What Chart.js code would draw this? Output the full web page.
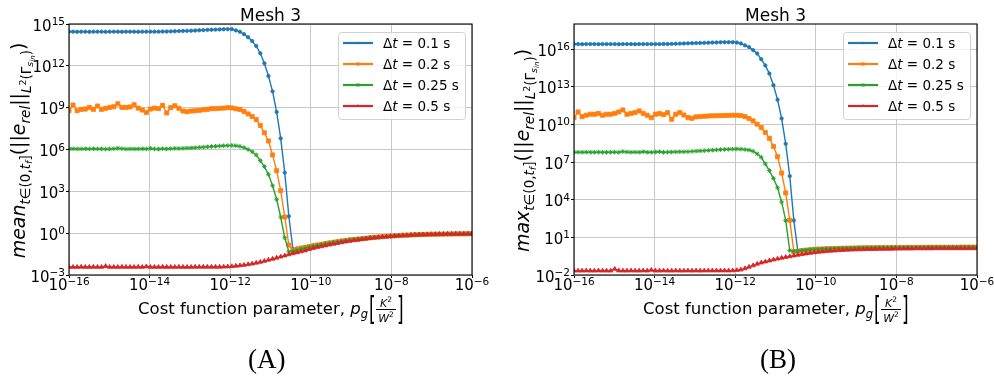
<!DOCTYPE html>
<html><head><meta charset="utf-8">
<script src="https://cdn.jsdelivr.net/npm/chart.js@4.4.1/dist/chart.umd.min.js"></script>
<style>
html,body{margin:0;padding:0;background:#fff;}
body{width:994px;height:378px;overflow:hidden;position:relative;}
.pane{position:absolute;top:0;width:497px;height:378px;}
#pa{left:0}#pb{left:497px}
</style></head><body>
<div class="pane" id="pa"><canvas id="ca" width="497" height="378" style="width:497px;height:378px"></canvas></div>
<div class="pane" id="pb"><canvas id="cb" width="497" height="378" style="width:497px;height:378px"></canvas></div>
<script>
// log10 of cost function parameter p_g (x positions, 100 points)
const xExp = [-16.000,-15.899,-15.798,-15.697,-15.596,-15.495,-15.394,-15.293,-15.192,-15.091,
 -14.990,-14.889,-14.788,-14.687,-14.586,-14.485,-14.384,-14.283,-14.182,-14.081,
 -13.980,-13.879,-13.778,-13.677,-13.576,-13.475,-13.374,-13.273,-13.172,-13.071,
 -12.970,-12.869,-12.768,-12.667,-12.566,-12.465,-12.364,-12.263,-12.162,-12.061,
 -11.960,-11.859,-11.758,-11.657,-11.556,-11.455,-11.354,-11.253,-11.152,-11.051,
 -10.949,-10.848,-10.747,-10.646,-10.545,-10.444,-10.343,-10.242,-10.141,-10.040,
 -9.939,-9.838,-9.737,-9.636,-9.535,-9.434,-9.333,-9.232,-9.131,-9.030,
 -8.929,-8.828,-8.727,-8.626,-8.525,-8.424,-8.323,-8.222,-8.121,-8.020,
 -7.919,-7.818,-7.717,-7.616,-7.515,-7.414,-7.313,-7.212,-7.111,-7.010,
 -6.909,-6.808,-6.707,-6.606,-6.505,-6.404,-6.303,-6.202,-6.101,-6.000];

const seriesLabels = ['0.1','0.2','0.25','0.5'];

// Panel A: log10 of mean error
const meanDt01 = [14.45,14.45,14.44,14.45,14.45,14.44,14.45,14.45,14.45,14.44,
 14.45,14.45,14.45,14.44,14.45,14.45,14.45,14.44,14.45,14.45,
 14.45,14.45,14.45,14.46,14.46,14.47,14.48,14.49,14.50,14.51,
 14.52,14.53,14.55,14.56,14.58,14.59,14.60,14.61,14.62,14.63,
 14.63,14.54,14.44,14.27,14.05,13.78,13.42,12.90,12.18,11.27,
 10.17,8.69,6.80,4.34,1.21,-1.14,-1.09,-1.04,-0.99,-0.94,
 -0.88,-0.83,-0.78,-0.73,-0.68,-0.64,-0.59,-0.55,-0.51,-0.47,
 -0.44,-0.41,-0.38,-0.35,-0.32,-0.29,-0.27,-0.25,-0.23,-0.21,
 -0.19,-0.17,-0.16,-0.14,-0.13,-0.12,-0.11,-0.10,-0.09,-0.08,
 -0.07,-0.07,-0.06,-0.06,-0.05,-0.05,-0.05,-0.04,-0.04,-0.04];
const meanDt02 = [8.78,9.19,8.78,8.88,8.90,9.02,8.88,9.12,8.88,8.95,
 9.02,9.07,9.28,9.02,9.02,9.05,9.21,8.97,8.83,8.66,
 8.90,8.97,8.93,9.17,8.62,9.00,9.14,8.95,8.76,8.71,
 8.76,8.78,8.81,8.85,8.88,8.93,8.93,8.95,8.97,9.00,
 8.98,8.92,8.87,8.72,8.55,8.37,8.15,7.72,7.20,6.61,
 5.61,4.48,3.05,1.16,-0.85,-1.23,-1.15,-1.08,-1.02,-0.96,
 -0.90,-0.85,-0.80,-0.75,-0.70,-0.65,-0.61,-0.56,-0.52,-0.48,
 -0.45,-0.42,-0.39,-0.36,-0.33,-0.30,-0.28,-0.25,-0.23,-0.21,
 -0.19,-0.18,-0.16,-0.15,-0.13,-0.12,-0.11,-0.10,-0.09,-0.08,
 -0.08,-0.07,-0.07,-0.06,-0.06,-0.05,-0.05,-0.05,-0.04,-0.04];
const meanDt025 = [6.04,6.05,6.04,6.04,6.05,6.04,6.05,6.04,6.04,6.03,
 6.04,6.05,6.09,6.06,6.03,6.04,6.04,6.04,6.05,6.04,
 6.08,6.04,6.03,6.05,6.04,6.06,6.08,6.07,6.08,6.10,
 6.11,6.13,6.15,6.17,6.19,6.21,6.23,6.25,6.27,6.28,
 6.29,6.27,6.22,6.14,6.00,5.84,5.61,5.20,4.77,4.22,
 3.40,2.43,1.16,-0.33,-1.33,-1.30,-1.22,-1.14,-1.07,-1.00,
 -0.94,-0.88,-0.83,-0.77,-0.72,-0.67,-0.63,-0.58,-0.54,-0.50,
 -0.46,-0.43,-0.40,-0.37,-0.34,-0.31,-0.28,-0.26,-0.24,-0.22,
 -0.20,-0.18,-0.16,-0.15,-0.14,-0.12,-0.11,-0.10,-0.09,-0.09,
 -0.08,-0.07,-0.07,-0.06,-0.06,-0.05,-0.05,-0.05,-0.04,-0.04];
const meanDt05 = [-2.43,-2.43,-2.43,-2.42,-2.43,-2.43,-2.42,-2.43,-2.43,-2.37,
 -2.43,-2.43,-2.43,-2.42,-2.43,-2.43,-2.43,-2.42,-2.43,-2.39,
 -2.43,-2.43,-2.43,-2.42,-2.43,-2.43,-2.43,-2.42,-2.43,-2.43,
 -2.43,-2.42,-2.42,-2.42,-2.42,-2.42,-2.42,-2.42,-2.41,-2.40,
 -2.38,-2.35,-2.32,-2.28,-2.24,-2.19,-2.13,-2.07,-2.00,-1.92,
 -1.85,-1.77,-1.69,-1.61,-1.53,-1.45,-1.39,-1.32,-1.25,-1.15,
 -1.08,-1.01,-0.95,-0.89,-0.83,-0.77,-0.72,-0.66,-0.61,-0.56,
 -0.52,-0.48,-0.44,-0.40,-0.36,-0.33,-0.30,-0.27,-0.25,-0.22,
 -0.20,-0.18,-0.16,-0.15,-0.13,-0.12,-0.11,-0.10,-0.09,-0.08,
 -0.08,-0.07,-0.07,-0.06,-0.06,-0.06,-0.05,-0.05,-0.05,-0.05];

// Panel B: log10 of max error
const maxDt01 = [16.40,16.40,16.39,16.40,16.40,16.40,16.39,16.40,16.40,16.40,
 16.40,16.39,16.40,16.40,16.40,16.39,16.40,16.40,16.40,16.40,
 16.40,16.40,16.41,16.41,16.42,16.43,16.44,16.45,16.46,16.47,
 16.48,16.49,16.50,16.51,16.52,16.53,16.54,16.55,16.55,16.55,
 16.52,16.45,16.30,16.16,15.92,15.65,15.20,14.70,14.05,13.12,
 11.97,10.47,8.45,5.88,2.35,-0.13,-0.08,-0.04,0.00,0.03,
 0.05,0.07,0.08,0.09,0.10,0.11,0.12,0.13,0.14,0.15,
 0.15,0.16,0.16,0.17,0.17,0.18,0.18,0.18,0.19,0.19,
 0.19,0.20,0.20,0.20,0.20,0.20,0.21,0.21,0.21,0.21,
 0.21,0.21,0.21,0.22,0.22,0.22,0.22,0.22,0.22,0.22];
const maxDt02 = [10.54,10.99,10.62,10.73,10.81,10.81,10.88,10.73,10.81,10.81,
 10.88,10.99,11.15,10.81,10.88,10.94,11.07,10.88,10.73,10.54,
 10.81,10.86,10.78,10.94,10.41,10.81,10.94,10.75,10.54,10.49,
 10.60,10.62,10.65,10.67,10.68,10.69,10.70,10.71,10.72,10.73,
 10.73,10.70,10.62,10.47,10.28,10.02,9.75,9.36,8.89,8.25,
 7.43,6.12,4.54,2.37,-0.13,-0.10,-0.06,-0.02,0.01,0.04,
 0.06,0.07,0.09,0.10,0.11,0.12,0.13,0.14,0.14,0.15,
 0.16,0.16,0.17,0.17,0.17,0.18,0.18,0.18,0.19,0.19,
 0.19,0.19,0.20,0.20,0.20,0.20,0.20,0.21,0.21,0.21,
 0.21,0.21,0.21,0.21,0.21,0.22,0.22,0.22,0.22,0.22];
const maxDt025 = [7.78,7.78,7.78,7.79,7.78,7.78,7.79,7.78,7.78,7.78,
 7.79,7.78,7.84,7.80,7.78,7.79,7.78,7.82,7.78,7.78,
 7.80,7.82,7.78,7.79,7.80,7.81,7.83,7.82,7.83,7.85,
 7.87,7.89,7.91,7.93,7.95,7.97,7.99,8.01,8.02,8.03,
 8.04,8.03,8.00,7.96,7.86,7.65,7.38,6.85,6.32,5.70,
 4.95,3.82,2.35,-0.05,-0.12,-0.08,-0.04,-0.01,0.02,0.04,
 0.06,0.08,0.09,0.10,0.11,0.12,0.13,0.14,0.14,0.15,
 0.16,0.16,0.17,0.17,0.17,0.18,0.18,0.18,0.19,0.19,
 0.19,0.19,0.20,0.20,0.20,0.20,0.20,0.21,0.21,0.21,
 0.21,0.21,0.21,0.21,0.21,0.22,0.22,0.22,0.22,0.22];
const maxDt05 = [-1.66,-1.66,-1.66,-1.65,-1.66,-1.66,-1.65,-1.66,-1.66,-1.66,
 -1.52,-1.65,-1.66,-1.66,-1.65,-1.66,-1.66,-1.65,-1.66,-1.60,
 -1.66,-1.66,-1.65,-1.66,-1.66,-1.65,-1.66,-1.66,-1.65,-1.66,
 -1.65,-1.66,-1.65,-1.65,-1.65,-1.65,-1.65,-1.65,-1.65,-1.64,
 -1.62,-1.58,-1.48,-1.36,-1.24,-1.12,-1.02,-0.94,-0.86,-0.78,
 -0.71,-0.64,-0.58,-0.52,-0.46,-0.40,-0.35,-0.30,-0.25,-0.21,
 -0.17,-0.14,-0.11,-0.08,-0.06,-0.04,-0.02,0.00,0.01,0.02,
 0.03,0.04,0.05,0.05,0.06,0.07,0.07,0.08,0.08,0.09,
 0.09,0.10,0.10,0.10,0.11,0.11,0.11,0.11,0.11,0.12,
 0.12,0.12,0.12,0.12,0.12,0.12,0.12,0.12,0.12,0.12];

// tick exponents
const xTickExp = [-16,-14,-12,-10,-8,-6];
const yTickExpA = [-3,0,3,6,9,12,15];
const yTickExpB = [-2,1,4,7,10,13,16];

const COLORS = ['#1f77b4','#ff7f0e','#2ca02c','#d62728'];
const PSTYLE = ['circle','rect','star','triangle'];
const PRAD = [1.7,2.9,2.3,2.6];
const FONT = '"DejaVu Sans"';

function fontOf(s){ return (s.i?'italic ':'') + s.size + 'px ' + FONT; }
function richWidth(ctx, segs){ let w=0; for(const s of segs){ ctx.font=fontOf(s); w+=ctx.measureText(s.t).width+(s.sp||0);} return w; }
function drawRich(ctx, segs, x, y){ let cx=x; for(const s of segs){ ctx.font=fontOf(s); ctx.fillText(s.t, cx, y+(s.dy||0)); cx+=ctx.measureText(s.t).width+(s.sp||0);} return cx; }

function ylabSegs(word){
  return [
    {t:word, i:1, size:19},
    {t:'t', i:1, size:13.5, dy:4.5},
    {t:'\u2208(0,', size:13.5, dy:4.5},
    {t:'t', i:1, size:13.5, dy:4.5},
    {t:'f', i:1, size:9.5, dy:7},
    {t:']', size:13.5, dy:4.5},
    {t:'(||', size:19},
    {t:'e', i:1, size:19},
    {t:'rel', i:1, size:13.5, dy:4.5},
    {t:'||', size:19},
    {t:'L', i:1, size:13.5, dy:5.5},
    {t:'2', size:9.5, dy:0.5},
    {t:'(\u0393', size:13.5, dy:5.5},
    {t:'s', i:1, size:9.5, dy:8},
    {t:'in', i:1, size:7, dy:10},
    {t:')', size:13.5, dy:5.5},
    {t:')', size:19}
  ];
}

function drawPow(ctx, e, px, py, mode){
  const b='10', s = e<0 ? '\u2212'+(-e) : String(e);
  ctx.font='15px '+FONT; const wb=ctx.measureText(b).width;
  ctx.font='10.5px '+FONT; const ws=ctx.measureText(s).width;
  let x0, yb;
  if(mode==='x'){ x0=px-(wb+ws)/2; yb=290; } else { x0=px-4-wb-ws; yb=py+6.5; }
  ctx.font='15px '+FONT; ctx.fillText(b,x0,yb);
  ctx.font='10.5px '+FONT; ctx.fillText(s,x0+wb,yb-5.5);
}

function drawMarker(ctx, style, x, y, r, col){
  ctx.save(); ctx.fillStyle=col; ctx.strokeStyle=col; ctx.lineWidth=1;
  ctx.beginPath();
  if(style==='circle'){ ctx.arc(x,y,r,0,Math.PI*2); ctx.fill(); }
  else if(style==='rect'){ const s=r*Math.SQRT1_2; ctx.rect(x-s,y-s,2*s,2*s); ctx.fill(); }
  else if(style==='triangle'){ ctx.moveTo(x,y-r); ctx.lineTo(x+r*0.87,y+r*0.5); ctx.lineTo(x-r*0.87,y+r*0.5); ctx.closePath(); ctx.fill(); }
  else { ctx.moveTo(x-r,y); ctx.lineTo(x+r,y); ctx.moveTo(x,y-r); ctx.lineTo(x,y+r);
         const d=r*0.7; ctx.moveTo(x-d,y-d); ctx.lineTo(x+d,y+d); ctx.moveTo(x-d,y+d); ctx.lineTo(x+d,y-d); ctx.stroke(); }
  ctx.restore();
}

function decorPlugin(cfg){
  return {
    id:'decor',
    afterDraw(chart){
      const ctx=chart.ctx, ca=chart.chartArea, xs=chart.scales.x, ys=chart.scales.y;
      ctx.save();
      ctx.fillStyle='#000'; ctx.textAlign='left'; ctx.textBaseline='alphabetic';
      ctx.strokeStyle='#000'; ctx.lineWidth=1.1;
      ctx.strokeRect(ca.left, ca.top, ca.right-ca.left, ca.bottom-ca.top);
      for(const e of xTickExp) drawPow(ctx, e, xs.getPixelForValue(Math.pow(10,e)), 0, 'x');
      for(const e of cfg.yTicks) drawPow(ctx, e, ca.left, ys.getPixelForValue(Math.pow(10,e)), 'y');
      ctx.font='17px '+FONT; ctx.textAlign='center';
      ctx.fillText('Mesh 3', (ca.left+ca.right)/2, 20.5);
      ctx.textAlign='left';
      const seg1=[{t:'Cost function parameter, ', size:16.5},{t:'p', i:1, size:16.5},{t:'g', i:1, size:11.5, dy:3.5}];
      const w1=richWidth(ctx,seg1), fracW=20, total=w1+1+6+fracW+2+6;
      let cx=(ca.left+ca.right)/2-total/2;
      cx=drawRich(ctx,seg1,cx,314);
      cx+=1;
      ctx.save(); ctx.translate(cx,319); ctx.scale(1,1.85); ctx.font='17px '+FONT; ctx.fillText('[',0,0); ctx.restore();
      cx+=7;
      ctx.fillRect(cx,309,fracW,1);
      const num=[{t:'K',i:1,size:11},{t:'2',size:7.5,dy:-4.5}], den=[{t:'W',i:1,size:11},{t:'2',size:7.5,dy:-4.5}];
      drawRich(ctx,num,cx+fracW/2-richWidth(ctx,num)/2,306.5);
      drawRich(ctx,den,cx+fracW/2-richWidth(ctx,den)/2,321.5);
      cx+=fracW+1;
      ctx.save(); ctx.translate(cx,319); ctx.scale(1,1.85); ctx.font='17px '+FONT; ctx.fillText(']',0,0); ctx.restore();
      const ysg=ylabSegs(cfg.yword), yw=richWidth(ctx,ysg);
      ctx.save(); ctx.translate(cfg.ylabX, (ca.top+ca.bottom)/2+yw/2+1); ctx.rotate(-Math.PI/2);
      drawRich(ctx,ysg,0,0); ctx.restore();
      const bw=127, bh=87, bx=ca.right-7-bw, by=ca.top+8;
      ctx.beginPath(); ctx.roundRect(bx+0.5,by+0.5,bw,bh,3);
      ctx.fillStyle='rgba(255,255,255,0.8)'; ctx.fill();
      ctx.strokeStyle='#d0d0d0'; ctx.lineWidth=1; ctx.stroke();
      for(let i=0;i<4;i++){
        const ry=by+11+i*21;
        ctx.strokeStyle=COLORS[i]; ctx.lineWidth=2.2; ctx.beginPath(); ctx.moveTo(bx+5,ry); ctx.lineTo(bx+35,ry); ctx.stroke();
        drawMarker(ctx,PSTYLE[i],bx+20,ry,PRAD[i]*0.8,COLORS[i]);
        ctx.fillStyle='#000';
        drawRich(ctx,[{t:'\u0394',size:13.5},{t:'t',i:1,size:13.5},{t:' = '+seriesLabels[i]+' s',size:13.5}],bx+45,ry+5);
      }
      ctx.fillStyle='#000'; ctx.font='27px "Liberation Serif"'; ctx.textAlign='center';
      ctx.fillText(cfg.caption, cfg.capX, 368);
      ctx.restore();
    }
  };
}

function makeChart(id, series, yMinE, yMaxE, yTicks, pad, cfg){
  const datasets = series.map((ys,i)=>({
    label:'\u0394t = '+seriesLabels[i]+' s',
    data: xExp.map((e,k)=>({x:Math.pow(10,e), y:Math.pow(10,ys[k])})),
    borderColor:COLORS[i], backgroundColor:COLORS[i],
    pointBackgroundColor:COLORS[i], pointBorderColor:COLORS[i],
    borderWidth:1.4, pointRadius:PRAD[i], pointBorderWidth:(i===2?1:0.8), pointStyle:PSTYLE[i],
    tension:0, order:4-i
  }));
  const grid={color:'#c8c8c8', lineWidth:1, drawTicks:true, tickLength:3, tickColor:'#000', tickWidth:1};
  return new Chart(document.getElementById(id), {
    type:'line',
    data:{datasets},
    options:{
      responsive:false, animation:false, devicePixelRatio:1,
      layout:{padding:pad},
      plugins:{legend:{display:false}, tooltip:{enabled:false}, title:{display:false}},
      scales:{
        x:{type:'logarithmic', min:1e-16, max:1e-6,
           afterBuildTicks:s=>{ s.ticks=xTickExp.map(e=>({value:Math.pow(10,e)})); },
           afterFit:s=>{ s.height=30; },
           ticks:{display:false}, grid, border:{display:false}},
        y:{type:'logarithmic', min:Math.pow(10,yMinE), max:Math.pow(10,yMaxE),
           afterBuildTicks:s=>{ s.ticks=yTicks.map(e=>({value:Math.pow(10,e)})); },
           afterFit:s=>{ s.width=40; },
           ticks:{display:false}, grid, border:{display:false}}
      }
    },
    plugins:[decorPlugin(Object.assign({yTicks}, cfg))]
  });
}

makeChart('ca', [meanDt01,meanDt02,meanDt025,meanDt05], -3, 15, yTickExpA,
  {left:29,right:25,top:24,bottom:73}, {yword:'mean', ylabX:25, caption:'(A)', capX:266.7});
makeChart('cb', [maxDt01,maxDt02,maxDt025,maxDt05], -2, 18, yTickExpB,
  {left:37,right:17,top:24,bottom:73}, {yword:'max', ylabX:32, caption:'(B)', capX:281});
</script>
</body></html>
